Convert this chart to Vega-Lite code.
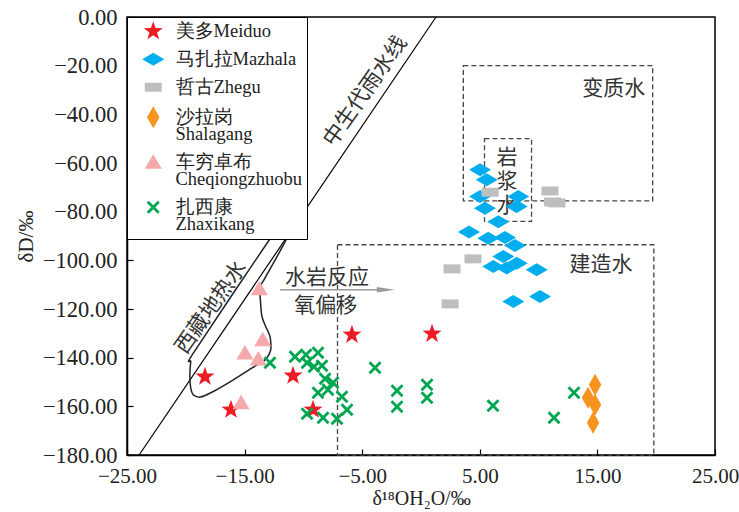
{
  "$schema": "https://vega.github.io/schema/vega-lite/v6.json",
  "width": 588,
  "height": 438,
  "autosize": "none",
  "padding": {"left": 127, "top": 17, "right": 24, "bottom": 57},
  "background": "white",
  "config": {
    "view": {"stroke": "black", "strokeWidth": 1.5},
    "axis": {
      "domainColor": "black", "domainWidth": 1.5,
      "tickColor": "black", "tickWidth": 1.2, "tickSize": -6,
      "labelFont": "Liberation Serif", "labelFontSize": 22.5, "labelColor": "#222",
      "titleFont": "Liberation Serif", "titleFontSize": 21, "titleFontWeight": "normal", "titleColor": "#222",
      "grid": false, "labelFlush": false
    },
    "legend": {
      "orient": "none", "legendX": 0, "legendY": 0,
      "padding": 5, "strokeColor": "black", "fillColor": "white",
      "labelFont": "Liberation Serif", "labelFontSize": 18.5, "labelColor": "#222",
      "labelLimit": 0, "labelBaseline": "top", "labelOffset": 13,
      "symbolSize": 100, "symbolOffset": 12, "symbolStrokeWidth": 0, "symbolOpacity": 1,
      "rowPadding": 9
    }
  },
  "layer": [
    {
      "data": {"values": [
        {"box": "变质水", "x1": 3.6, "x2": 19.7, "y1": -75.6, "y2": -20},
        {"box": "岩浆水", "x1": 5.4, "x2": 9.4, "y1": -84, "y2": -50},
        {"box": "建造水", "x1": -7.1, "x2": 19.8, "y1": -180, "y2": -93.6}
      ]},
      "mark": {"type": "rect", "fillOpacity": 0, "stroke": "#444", "strokeWidth": 1.3, "strokeDash": [5, 3]},
      "encoding": {
        "x": {"field": "x1", "type": "quantitative", "scale": {"domain": [-25, 25], "nice": false, "zero": false},
              "axis": {"values": [-25, -15, -5, 5, 15, 25], "format": ".2f", "title": "δ¹⁸OH₂O/‰", "labelPadding": 16, "labelFontSize": 21, "titlePadding": 2, "titleFontSize": 20, "labelFlush": false}},
        "x2": {"field": "x2"},
        "y": {"field": "y1", "type": "quantitative", "scale": {"domain": [-180, 0], "nice": false, "zero": false},
              "axis": {"values": [-180, -160, -140, -120, -100, -80, -60, -40, -20, 0], "format": ".2f", "title": "δD/‰", "labelPadding": 16, "titlePadding": 6}},
        "y2": {"field": "y2"}
      }
    },
    {
      "data": {"values": [{"x1": -23.97, "y1": -180, "x2": 1.28, "y2": 0}]},
      "mark": {"type": "rule", "color": "black", "strokeWidth": 1.2},
      "encoding": {
        "x": {"field": "x1", "type": "quantitative"},
        "x2": {"field": "x2"},
        "y": {"field": "y1", "type": "quantitative"},
        "y2": {"field": "y2"}
      }
    },
    {
      "data": {"values": [
        {"i": 1, "x": -11.82, "y": -85.4},
        {"i": 2, "x": -11.28, "y": -89.5},
        {"i": 3, "x": -13.27, "y": -107.3},
        {"i": 4, "x": -13.69, "y": -111.4},
        {"i": 5, "x": -13.55, "y": -122.4},
        {"i": 6, "x": -13.27, "y": -126.5},
        {"i": 7, "x": -12.84, "y": -131.3},
        {"i": 8, "x": -12.78, "y": -136.8},
        {"i": 9, "x": -13.27, "y": -140.9},
        {"i": 10, "x": -14.4, "y": -144.3},
        {"i": 11, "x": -15.96, "y": -149.1},
        {"i": 12, "x": -17.66, "y": -153.9},
        {"i": 13, "x": -18.79, "y": -156.2},
        {"i": 14, "x": -19.41, "y": -155.0},
        {"i": 15, "x": -19.64, "y": -149.8},
        {"i": 16, "x": -19.58, "y": -141.6},
        {"i": 17, "x": -19.36, "y": -138.1},
        {"i": 18, "x": -12.61, "y": -89.5}
      ]},
      "mark": {"type": "line", "color": "#222", "strokeWidth": 1.5, "interpolate": "cardinal-closed", "tension": 0.3},
      "encoding": {
        "x": {"field": "x", "type": "quantitative"},
        "y": {"field": "y", "type": "quantitative"},
        "order": {"field": "i", "type": "quantitative"}
      }
    },
    {
      "data": {"values": [{"x1": -11.99, "x2": -3.6, "y": -112.1}]},
      "mark": {"type": "rule", "color": "#999", "strokeWidth": 1.5},
      "encoding": {
        "x": {"field": "x1", "type": "quantitative"},
        "x2": {"field": "x2"},
        "y": {"field": "y", "type": "quantitative"}
      }
    },
    {
      "data": {"values": [{"x": -2.99, "y": -112.1}]},
      "mark": {"type": "point", "shape": "M-1,-0.3L1,0L-1,0.3Z", "size": 324, "filled": true, "color": "#999", "opacity": 1, "strokeWidth": 0},
      "encoding": {
        "x": {"field": "x", "type": "quantitative"},
        "y": {"field": "y", "type": "quantitative"}
      }
    },
    {
      "data": {"values": [
        {"t": "变质水", "x": 16.4, "y": -29.6},
        {"t": "建造水", "x": 15.3, "y": -101.8},
        {"t": "水岩反应", "x": -8.0, "y": -107.2},
        {"t": "氧偏移", "x": -8.1, "y": -118.7}
      ]},
      "mark": {"type": "text", "font": "Noto Sans CJK SC", "fontSize": 21, "color": "#333", "align": "center", "baseline": "middle"},
      "encoding": {
        "x": {"field": "x", "type": "quantitative"},
        "y": {"field": "y", "type": "quantitative"},
        "text": {"field": "t"}
      }
    },
    {
      "data": {"values": [
        {"t": "西藏地热水", "x": -17.8, "y": -119.5},
        {"t": "中生代雨水线", "x": -4.7, "y": -30.6}
      ]},
      "mark": {"type": "text", "font": "Noto Sans CJK SC", "fontSize": 21.5, "color": "#333", "align": "center", "baseline": "middle", "angle": -55},
      "encoding": {
        "x": {"field": "x", "type": "quantitative"},
        "y": {"field": "y", "type": "quantitative"},
        "text": {"field": "t"}
      }
    },
    {
      "data": {"values": [{"t": "岩\n浆\n水", "x": 7.31, "y": -57.9}]},
      "mark": {"type": "text", "font": "Noto Sans CJK SC", "fontSize": 21, "color": "#333", "align": "center", "baseline": "middle", "lineBreak": "\n", "lineHeight": 24},
      "encoding": {
        "x": {"field": "x", "type": "quantitative"},
        "y": {"field": "y", "type": "quantitative"},
        "text": {"field": "t"}
      }
    },
    {
      "data": {"values": [
        {"s": "美多Meiduo", "x": -18.37, "y": -147.8},
        {"s": "美多Meiduo", "x": -16.16, "y": -161.4},
        {"s": "美多Meiduo", "x": -10.88, "y": -147.4},
        {"s": "美多Meiduo", "x": -9.18, "y": -161.4},
        {"s": "美多Meiduo", "x": -5.87, "y": -130.6},
        {"s": "美多Meiduo", "x": 0.94, "y": -130.2},
        {"s": "马扎拉Mazhala", "x": 5.02, "y": -62.8},
        {"s": "马扎拉Mazhala", "x": 5.59, "y": -66.9},
        {"s": "马扎拉Mazhala", "x": 5.02, "y": -73.8},
        {"s": "马扎拉Mazhala", "x": 8.27, "y": -73.8},
        {"s": "马扎拉Mazhala", "x": 5.44, "y": -78.6},
        {"s": "马扎拉Mazhala", "x": 8.14, "y": -77.9},
        {"s": "马扎拉Mazhala", "x": 6.57, "y": -84.1},
        {"s": "马扎拉Mazhala", "x": 4.08, "y": -88.4},
        {"s": "马扎拉Mazhala", "x": 5.72, "y": -90.9},
        {"s": "马扎拉Mazhala", "x": 7.14, "y": -90.6},
        {"s": "马扎拉Mazhala", "x": 7.99, "y": -93.9},
        {"s": "马扎拉Mazhala", "x": 7.0, "y": -98.4},
        {"s": "马扎拉Mazhala", "x": 6.15, "y": -102.5},
        {"s": "马扎拉Mazhala", "x": 7.29, "y": -103.2},
        {"s": "马扎拉Mazhala", "x": 8.14, "y": -101.2},
        {"s": "马扎拉Mazhala", "x": 9.84, "y": -103.9},
        {"s": "马扎拉Mazhala", "x": 7.85, "y": -116.9},
        {"s": "马扎拉Mazhala", "x": 10.12, "y": -114.9},
        {"s": "哲古Zhegu", "x": 5.87, "y": -72.0},
        {"s": "哲古Zhegu", "x": 10.97, "y": -71.5},
        {"s": "哲古Zhegu", "x": 11.18, "y": -76.0},
        {"s": "哲古Zhegu", "x": 11.56, "y": -76.4},
        {"s": "哲古Zhegu", "x": 4.42, "y": -99.4},
        {"s": "哲古Zhegu", "x": 2.64, "y": -103.5},
        {"s": "哲古Zhegu", "x": 2.47, "y": -117.9},
        {"s": "沙拉岗|Shalagang", "x": 14.8, "y": -151.1},
        {"s": "沙拉岗|Shalagang", "x": 14.2, "y": -156.5},
        {"s": "沙拉岗|Shalagang", "x": 14.8, "y": -159.3},
        {"s": "沙拉岗|Shalagang", "x": 14.63, "y": -166.7},
        {"s": "车穷卓布|Cheqiongzhuobu", "x": -13.75, "y": -111.7},
        {"s": "车穷卓布|Cheqiongzhuobu", "x": -13.46, "y": -132.6},
        {"s": "车穷卓布|Cheqiongzhuobu", "x": -14.97, "y": -138.1},
        {"s": "车穷卓布|Cheqiongzhuobu", "x": -13.83, "y": -140.5},
        {"s": "车穷卓布|Cheqiongzhuobu", "x": -15.3, "y": -158.5},
        {"s": "扎西康|Zhaxikang", "x": -12.84, "y": -142.1},
        {"s": "扎西康|Zhaxikang", "x": -10.71, "y": -139.6},
        {"s": "扎西康|Zhaxikang", "x": -9.78, "y": -138.8},
        {"s": "扎西康|Zhaxikang", "x": -8.76, "y": -138.0},
        {"s": "扎西康|Zhaxikang", "x": -9.69, "y": -142.1},
        {"s": "扎西康|Zhaxikang", "x": -9.1, "y": -143.7},
        {"s": "扎西康|Zhaxikang", "x": -8.42, "y": -143.3},
        {"s": "扎西康|Zhaxikang", "x": -8.16, "y": -148.7},
        {"s": "扎西康|Zhaxikang", "x": -7.48, "y": -150.3},
        {"s": "扎西康|Zhaxikang", "x": -8.76, "y": -154.4},
        {"s": "扎西康|Zhaxikang", "x": -7.91, "y": -153.2},
        {"s": "扎西康|Zhaxikang", "x": -6.72, "y": -156.1},
        {"s": "扎西康|Zhaxikang", "x": -6.29, "y": -161.4},
        {"s": "扎西康|Zhaxikang", "x": -9.69, "y": -163.0},
        {"s": "扎西康|Zhaxikang", "x": -8.33, "y": -164.7},
        {"s": "扎西康|Zhaxikang", "x": -7.14, "y": -165.1},
        {"s": "扎西康|Zhaxikang", "x": -3.91, "y": -144.1},
        {"s": "扎西康|Zhaxikang", "x": -2.04, "y": -153.6},
        {"s": "扎西康|Zhaxikang", "x": -2.04, "y": -160.2},
        {"s": "扎西康|Zhaxikang", "x": 0.51, "y": -151.1},
        {"s": "扎西康|Zhaxikang", "x": 0.51, "y": -156.5},
        {"s": "扎西康|Zhaxikang", "x": 6.12, "y": -159.8},
        {"s": "扎西康|Zhaxikang", "x": 11.31, "y": -164.7},
        {"s": "扎西康|Zhaxikang", "x": 13.01, "y": -154.4}
      ]},
      "mark": {"type": "point", "filled": true, "size": 100, "opacity": 1, "strokeWidth": 0},
      "encoding": {
        "x": {"field": "x", "type": "quantitative"},
        "y": {"field": "y", "type": "quantitative"},
        "color": {
          "field": "s", "type": "nominal",
          "scale": {
            "domain": ["美多Meiduo", "马扎拉Mazhala", "哲古Zhegu", "沙拉岗|Shalagang", "车穷卓布|Cheqiongzhuobu", "扎西康|Zhaxikang"],
            "range": ["#ed1c24", "#00aeef", "#bcbec0", "#f7941d", "#f5a9ab", "#00a651"]
          },
          "legend": {"title": null, "labelExpr": "split(datum.label, '|')", "encode": {"labels": {"update": {"dy": {"value": -9}, "lineHeight": {"value": 17}}}}}
        },
        "shape": {
          "field": "s", "type": "nominal",
          "scale": {
            "domain": ["美多Meiduo", "马扎拉Mazhala", "哲古Zhegu", "沙拉岗|Shalagang", "车穷卓布|Cheqiongzhuobu", "扎西康|Zhaxikang"],
            "range": [
              "M0,-2L0.47,-0.65L1.9,-0.62L0.76,0.25L1.18,1.62L0,0.8L-1.18,1.62L-0.76,0.25L-1.9,-0.62L-0.47,-0.65Z",
              "M-2.2,0L0,-1.3L2.2,0L0,1.3Z",
              "M-1.7,-0.9L1.7,-0.9L1.7,0.9L-1.7,0.9Z",
              "M-1.25,0L0,-2.2L1.25,0L0,2.2Z",
              "M0,-1.6L1.7,1.3L-1.7,1.3Z",
              "M-1.3,-0.9L-0.9,-1.3L0,-0.4L0.9,-1.3L1.3,-0.9L0.4,0L1.3,0.9L0.9,1.3L0,0.4L-0.9,1.3L-1.3,0.9L-0.4,0Z"
            ]
          },
          "legend": {"title": null, "labelExpr": "split(datum.label, '|')", "encode": {"labels": {"update": {"dy": {"value": -9}, "lineHeight": {"value": 17}}}}}
        }
      }
    }
  ]
}
